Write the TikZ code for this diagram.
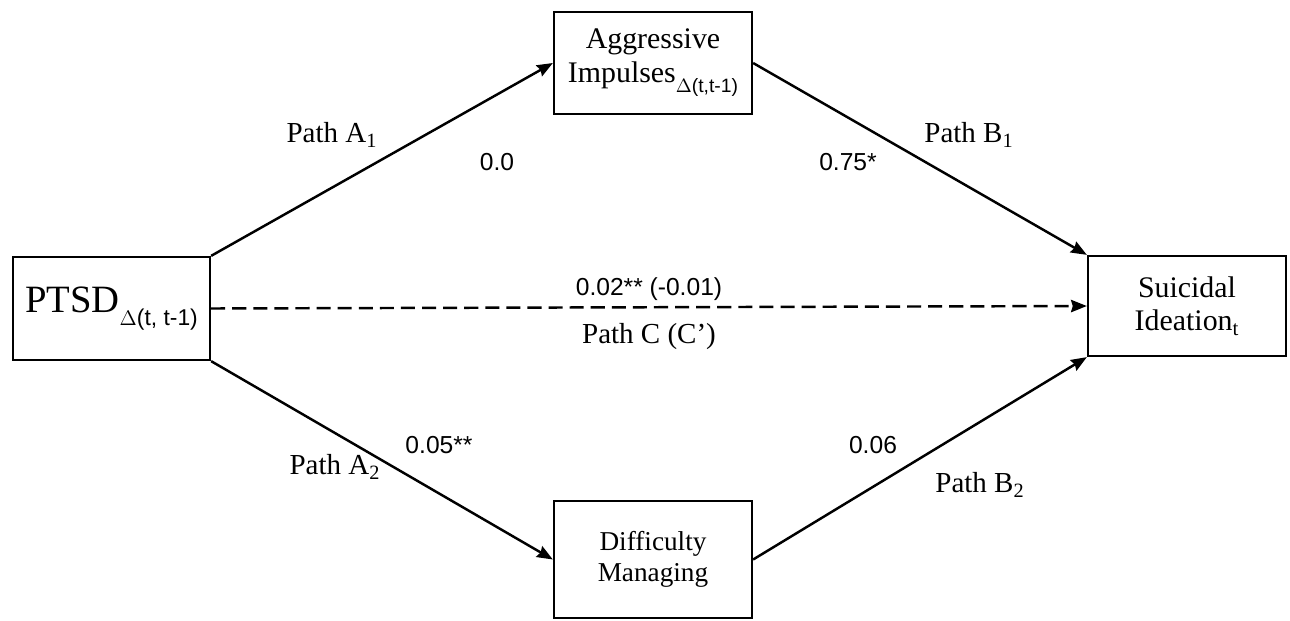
\documentclass[tikz,border=0pt]{standalone}
\usepackage{fontspec}
\setmainfont{Liberation Serif}
\setsansfont{Liberation Sans}
\usetikzlibrary{arrows.meta, positioning}
\tikzstyle{var} = [rectangle, draw=black, line width=1.3pt, inner sep=0pt, minimum width=3.96cm, minimum height=2.04cm, text centered, fill=white, font=\fontsize{17}{19}\selectfont]
\tikzstyle{pathlbl} = [inner sep=1pt, font=\fontsize{16.5}{18}\selectfont]
\tikzstyle{coef} = [inner sep=1pt, font=\sffamily\fontsize{14}{16}\selectfont]
\tikzstyle{arrow} = [line width=1.4pt,-{Stealth[length=9pt,width=7pt,inset=1pt]}]
\tikzstyle{dasharrow} = [arrow, dash pattern=on 8pt off 4pt]
\newcommand{\deltasub}[2]{\raisebox{-0.35em}{\sffamily\fontsize{#1}{#1}\selectfont #2}}

\begin{document}
\begin{tikzpicture}[node distance=1.5cm, align=center]
\useasboundingbox (-2.23,-6.23) rectangle (23.57,6.17);

% Variables
\node (ptsd) [var, minimum width=3.94cm, minimum height=2.06cm, font=\fontsize{22}{24}\selectfont] {PTSD\deltasub{13}{$\Delta$(t, t-1)}};

\node (aggr) [var, right of=ptsd, xshift=9.33cm, yshift=4.91cm] {Aggressive\\Impulses\deltasub{11}{$\Delta$(t,t-1)}};
\node (suic) [var, right of=ptsd, xshift=20.01cm, yshift=0.05cm, minimum height=2cm] {Suicidal\\Ideation\textsubscript{t}};
\node (diff) [var, right of=ptsd, xshift=9.33cm, yshift=-5.02cm, minimum height=2.34cm, font=\fontsize{15.5}{17.5}\selectfont] {Difficulty\\Managing};

% Path labels
\node (pathAone) [pathlbl, right of=ptsd, xshift=2.91cm, yshift=3.47cm] {Path A\textsubscript{1}};
\node (coefAone) [coef, right of=ptsd, xshift=6.21cm, yshift=2.93cm] {0.0};
\node (coefBone) [coef, right of=ptsd, xshift=13.23cm, yshift=2.93cm] {0.75*};
\node (pathBone) [pathlbl, right of=ptsd, xshift=15.65cm, yshift=3.47cm] {Path B\textsubscript{1}};

\node (coefC) [coef, right of=ptsd, xshift=9.25cm, yshift=0.39cm] {0.02** (-0.01)};
\node (pathC) [pathlbl, right of=ptsd, xshift=9.25cm, yshift=-0.57cm] {Path C (C’)};

\node (coefAtwo) [coef, right of=ptsd, xshift=5.05cm, yshift=-2.73cm] {0.05**};
\node (pathAtwo) [pathlbl, right of=ptsd, xshift=2.97cm, yshift=-3.17cm] {Path A\textsubscript{2}};
\node (coefBtwo) [coef, right of=ptsd, xshift=13.73cm, yshift=-2.73cm] {0.06};
\node (pathBtwo) [pathlbl, right of=ptsd, xshift=15.87cm, yshift=-3.53cm] {Path B\textsubscript{2}};

\draw[arrow] (ptsd.north east) -- (aggr.west);
\draw[arrow] (aggr.east) -- (suic.north west);
\draw[dasharrow] (ptsd.east) -- (suic.west);
\draw[arrow] (ptsd.south east) -- (diff.west);
\draw[arrow] (diff.east) -- (suic.south west);

\end{tikzpicture}
\end{document}
